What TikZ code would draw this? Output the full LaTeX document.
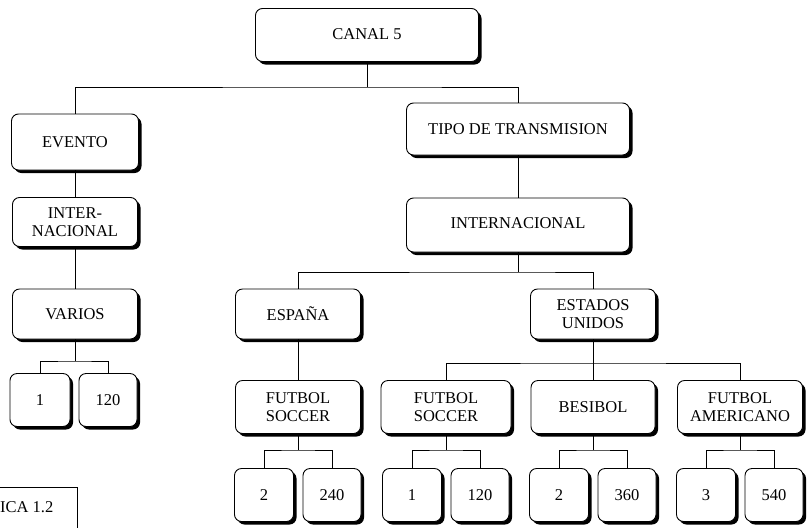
\documentclass[tikz,border=0pt]{standalone}
\usepackage{fontspec}
\setmainfont{Liberation Serif}
\usetikzlibrary{shadows}

\tikzset{
  caja/.style={draw, line width=0.9pt, rounded corners=7pt, fill=white,
    align=center, inner sep=0pt, minimum height=52pt,
    font=\fontsize{16.5}{18}\selectfont,
    drop shadow={shadow xshift=3pt, shadow yshift=-3pt,
      fill=black, opacity=1}},
  rama/.style={line width=0.7pt}
}

\begin{document}
\begin{tikzpicture}[x=1pt,y=-1pt]

\useasboundingbox
(0,0)
rectangle
(808,528);

% Raiz
\node[caja, minimum width=223pt, minimum height=53pt]
(canal)
at (367,35)
{\raisebox{2pt}{CANAL 5}};

% Primer nivel
\node[caja, minimum width=127pt, minimum height=56pt]
(evento)
at (75,142)
{EVENTO};

\node[caja, minimum width=223pt]
(tipo)
at (518,129)
{TIPO DE TRANSMISION};

\coordinate
(b0)
at (367,87);

\draw[rama]
(canal.south)
--
(b0);

\draw[rama]
(evento.north)
|-
(b0)
-|
(tipo.north);

% Evento
\node[caja, minimum width=125pt, minimum height=49pt]
(inter)
at (75,222)
{INTER-\\NACIONAL};

\node[caja, minimum width=125pt, minimum height=50pt]
(varios)
at (75,314)
{VARIOS};

\draw[rama]
(evento.south)
--
(inter.north);

\draw[rama]
(inter.south)
--
(varios.north);

\node[caja, minimum width=60pt, minimum height=53pt]
(v1)
at (40,400)
{1};

\node[caja, minimum width=58pt, minimum height=53pt]
(v2)
at (108,400)
{120};

\coordinate
(b1)
at (75,361);

\draw[rama]
(varios.south)
--
(b1);

\draw[rama]
(v1.north)
|-
(b1)
-|
(v2.north);

% Tipo de transmision
\node[caja, minimum width=223pt, minimum height=54pt]
(internacional)
at (518,225)
{\raisebox{3pt}{INTERNACIONAL}};

\draw[rama]
(tipo.south)
--
(internacional.north);

\node[caja, minimum width=125pt, minimum height=50pt]
(espana)
at (298,314)
{ESPAÑA};

\node[caja, minimum width=125pt, minimum height=50pt]
(eu)
at (593,314)
{ESTADOS\\UNIDOS};

\coordinate
(b2)
at (518,272);

\draw[rama]
(internacional.south)
--
(b2);

\draw[rama]
(espana.north)
|-
(b2)
-|
(eu.north);

% Espana
\node[caja, minimum width=125pt, minimum height=53pt]
(fe)
at (298,407)
{FUTBOL\\SOCCER};

\draw[rama]
(espana.south)
--
(fe.north);

% Estados Unidos
\node[caja, minimum width=130pt, minimum height=53pt]
(fu)
at (446,407)
{FUTBOL\\SOCCER};

\node[caja, minimum width=124pt, minimum height=53pt]
(besibol)
at (593,407)
{BESIBOL};

\node[caja, minimum width=125pt, minimum height=53pt]
(americano)
at (740,407)
{FUTBOL\\AMERICANO};

\coordinate
(b3)
at (593,363);

\draw[rama]
(eu.south)
--
(b3);

\draw[rama]
(fu.north)
|-
(b3)
-|
(americano.north);

\draw[rama]
(b3)
--
(besibol.north);

% Partidos y minutos
\foreach \padre/\izq/\der/\x/\a/\b in {fe/e1/e2/298/2/240, fu/u1/u2/446/1/120, besibol/s1/s2/593/2/360, americano/m1/m2/740/3/540}
{
  \node[caja, minimum width=59pt, minimum height=53pt]
  (\izq)
  at (\x-34,495)
  {\a};

  \node[caja, minimum width=58pt, minimum height=53pt]
  (\der)
  at (\x+34,495)
  {\b};

  \coordinate
  (c\padre)
  at (\x,450);

  \draw[rama]
  (\padre.south)
  --
  (c\padre);

  \draw[rama]
  (\izq.north)
  |-
  (c\padre)
  -|
  (\der.north);
}

% Leyenda cortada
\node[anchor=west, inner sep=0pt, font=\fontsize{16.5}{18}\selectfont]
(grafica)
at (0,507)
{ICA 1.2};

\draw[rama]
(0,487)
--
(77,487)
--
(77,528);

\end{tikzpicture}
\end{document}
